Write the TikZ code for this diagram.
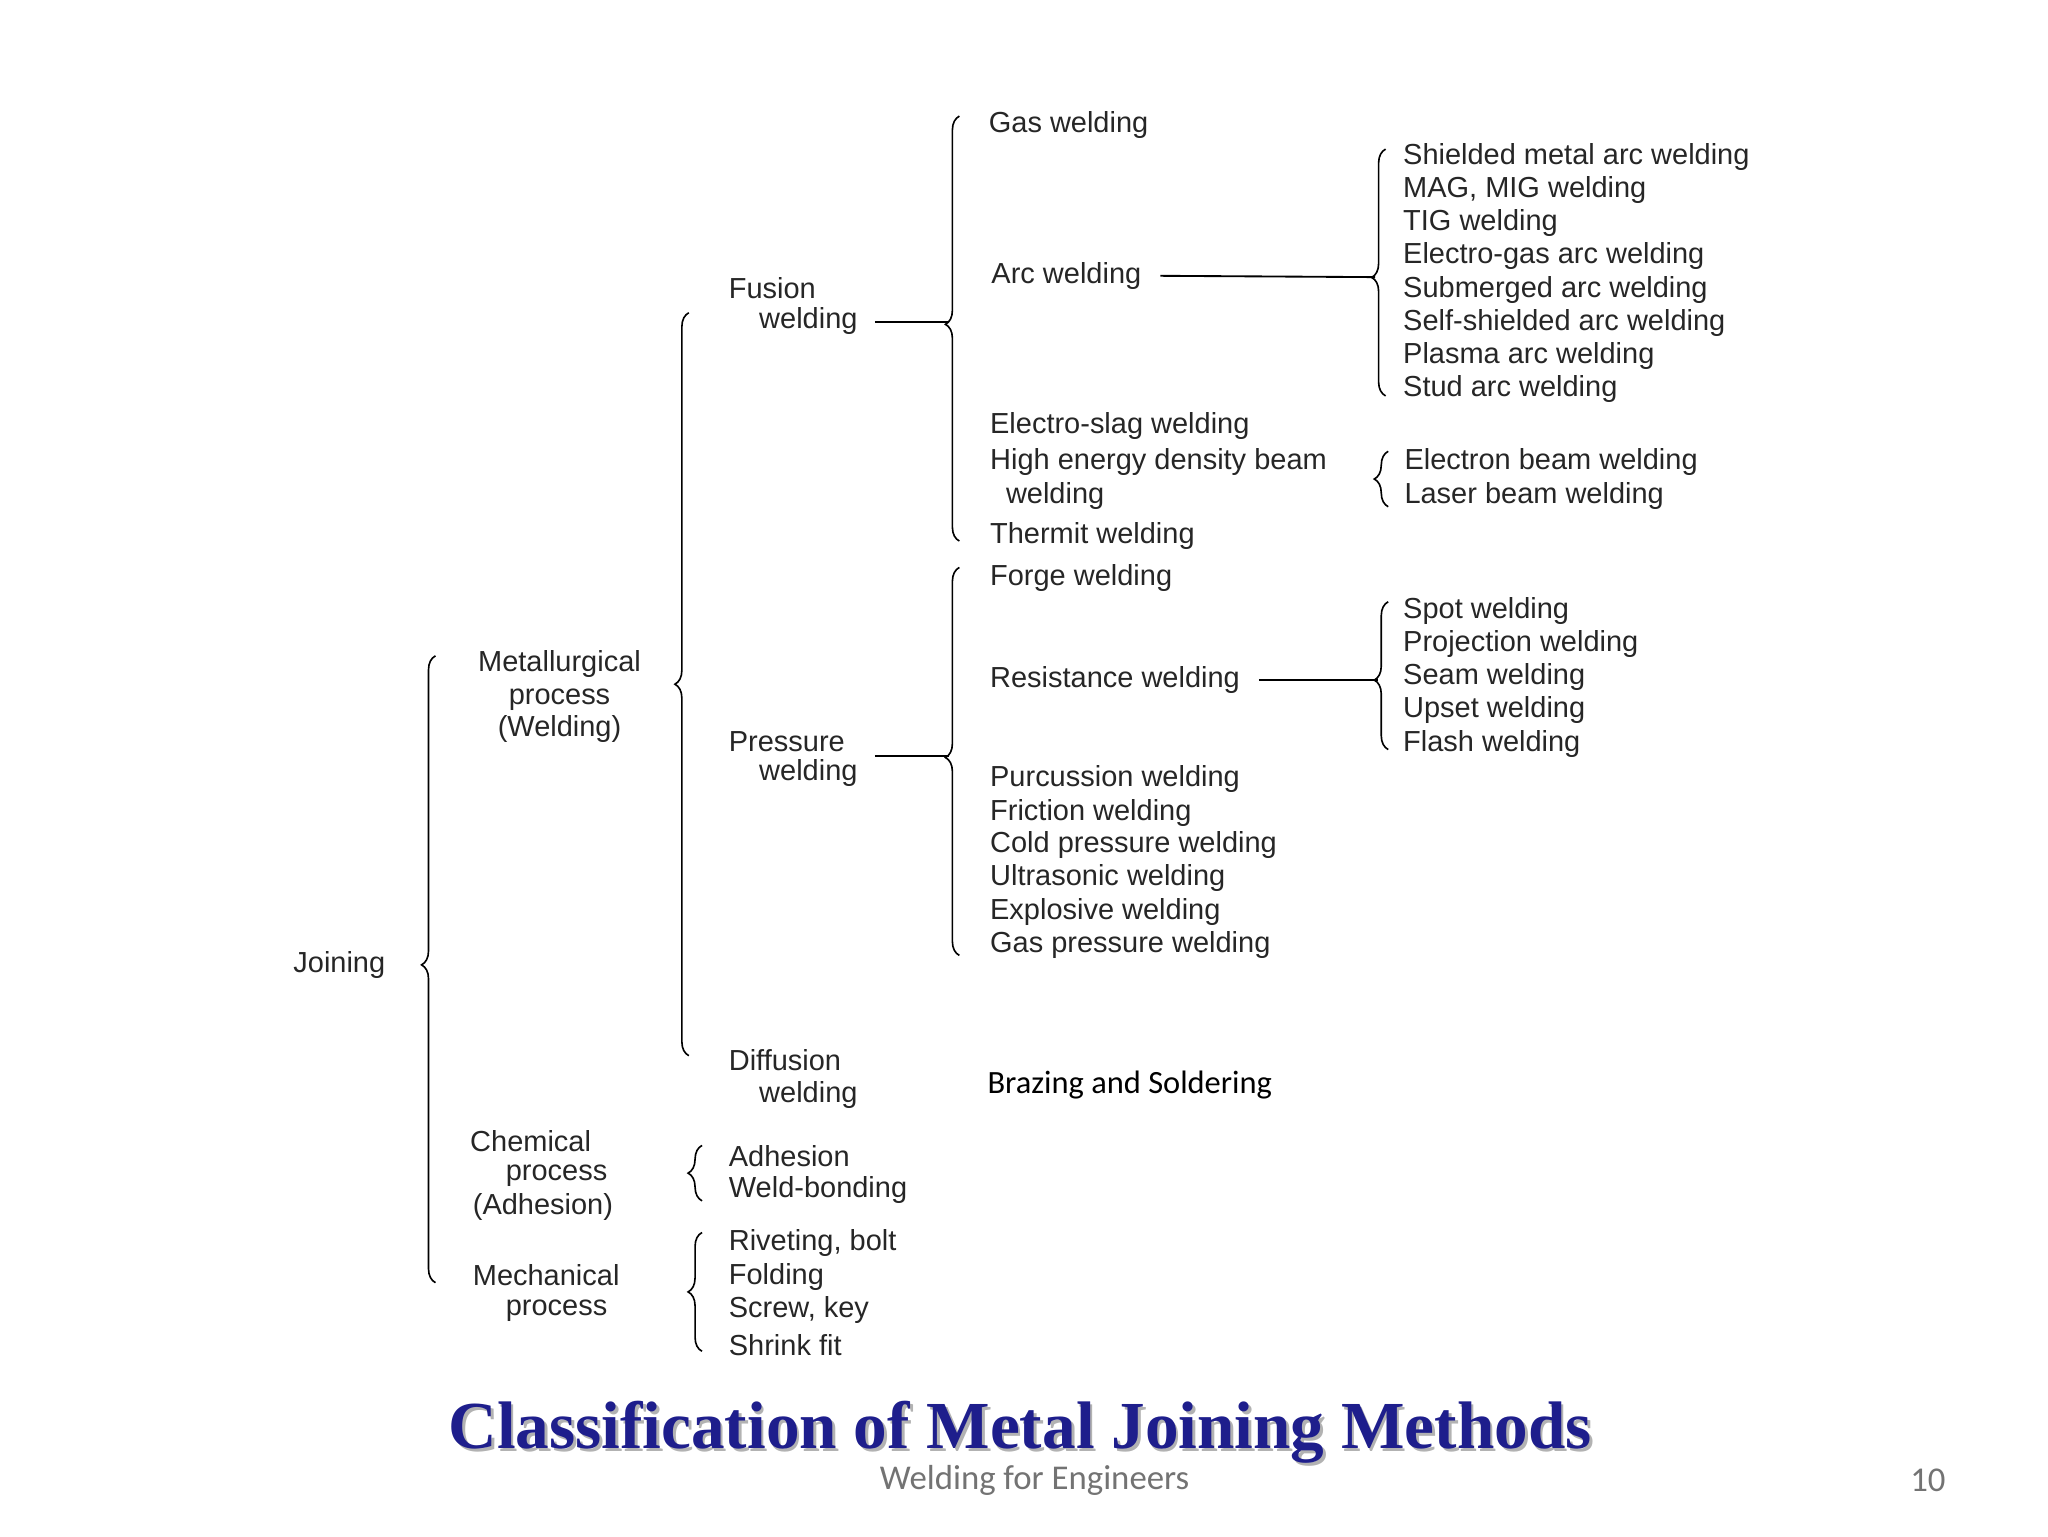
\documentclass[tikz,border=0pt]{standalone}
\usepackage{fontspec}
\setmainfont{Liberation Sans}
\newfontfamily\calfnt{Carlito}
\newfontfamily\ttlfnt{Liberation Serif}
\usetikzlibrary{decorations.pathreplacing}
\definecolor{titleblue}{RGB}{30,30,140}
\begin{document}
\begin{tikzpicture}[x=0.02cm,y=-0.02cm,
  t/.style={anchor=west,inner sep=0pt,font=\fontsize{12.5}{14}\selectfont,text=black!85},
  br/.style={decorate,decoration={brace,amplitude=6pt,aspect=#1},line width=0.7pt},
  ln/.style={line width=0.8pt}]
\useasboundingbox (0,0) rectangle (1552,1164);
% braces (drawn bottom to top so they open to the right)
\draw[br=0.507] (330,972) -- (330,497); \coordinate (bj) at (322,731);
\draw[br=0.50] (522,800) -- (522,237);
\draw[br=0.51] (727,410) -- (727,88); \coordinate (bf) at (719,244);
\draw[br=0.48] (1050,300) -- (1050,113); \coordinate (ba) at (1042,210);
\draw[br=0.5] (1052,384) -- (1052,342);
\draw[br=0.51] (727,724) -- (727,430); \coordinate (bp) at (719,573);
\draw[br=0.47] (1052,568) -- (1052,456); \coordinate (br) at (1044,515);
\draw[br=0.5] (532,910) -- (532,868);
\draw[br=0.5] (532,1024) -- (532,934);
% texts
\node[t] (join) at (222,731) {Joining};
\node[t,align=center,anchor=center] (met) at (424,528) {Metallurgical\\process\\(Welding)};
\node[t] at (356,865) {Chemical};
\node[t] at (383,891) {process};
\node[t] at (358,915) {(Adhesion)};
\node[t] at (358,966) {Mechanical};
\node[t] at (383,993) {process};
\node[t] at (552,218) {Fusion};
\node[t] (fw) at (575,243) {welding};
\node[t] at (552,562) {Pressure};
\node[t] (pw) at (575,586) {welding};
\node[t] at (552,803) {Diffusion};
\node[t] at (575,830) {welding};
\node[t] at (552,876) {Adhesion};
\node[t] at (552,902) {Weld-bonding};
\node[t] at (552,942) {Riveting, bolt};
\node[t] at (552,968) {Folding};
\node[t] at (552,993) {Screw, key};
\node[t] at (552,1019) {Shrink fit};
\node[t] at (749,95) {Gas welding};
\node[t] (arc) at (751,209) {Arc welding};
\node[t] at (750,323) {Electro-slag welding};
\node[t] at (750,350) {High energy density beam};
\node[t] at (762,376) {welding};
\node[t] at (750,406) {Thermit welding};
\node[t] at (750,438) {Forge welding};
\node[t] (res) at (750,515) {Resistance welding};
\node[t] at (750,590) {Purcussion welding};
\node[t] at (750,616) {Friction welding};
\node[t] at (750,640) {Cold pressure welding};
\node[t] at (750,665) {Ultrasonic welding};
\node[t] at (750,691) {Explosive welding};
\node[t] at (750,716) {Gas pressure welding};
\node[t,font=\calfnt\fontsize{14}{16}\selectfont,text=black] at (748,822) {Brazing and Soldering};
\foreach \s [count=\i] in {Shielded metal arc welding,{MAG, MIG welding},TIG welding,Electro-gas arc welding,Submerged arc welding,Self-shielded arc welding,Plasma arc welding,Stud arc welding}
  \node[t] at (1063,{119+25.1*(\i-1)}) {\s};
\node[t] at (1064,350) {Electron beam welding};
\node[t] at (1064,376) {Laser beam welding};
\foreach \s/\y in {Spot welding/463,Projection welding/488,Seam welding/513,Upset welding/538,Flash welding/564}
  \node[t] at (1063,\y) {\s};
% connectors
\coordinate (fwe) at (663,244);
\coordinate (pwe) at (663,573);
\draw[ln] (fwe) -- (bf);
\draw[ln] (pwe) -- (bp);
\draw[ln] ([xshift=8pt]arc.east) -- (ba);
\draw[ln] ([xshift=8pt]res.east) -- (br);
% title and footer
\node[font=\ttlfnt\bfseries\fontsize{29}{33}\selectfont,text=black!30] at (775,1088) {Classification of Metal Joining Methods};
\node[font=\ttlfnt\bfseries\fontsize{29}{33}\selectfont,text=titleblue] at (773,1085) {Classification of Metal Joining Methods};
\node[font=\calfnt\fontsize{15}{17}\selectfont,text=black!55] at (784,1122) {Welding for Engineers};
\node[font=\calfnt\fontsize{15}{17}\selectfont,text=black!55] at (1461,1122) {10};
\end{tikzpicture}
\end{document}
